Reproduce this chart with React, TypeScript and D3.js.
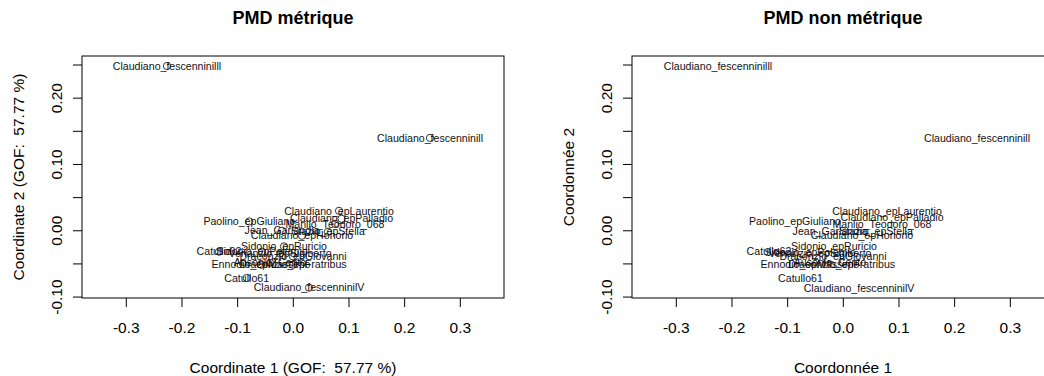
import * as d3 from 'd3';

// point labels, shared by both panels
const labels = [
  'Claudiano_fescenninilll',
  'Claudiano_fescenninill',
  'Claudiano_epLaurentio',
  'Claudiano_epPalladio',
  'Paolino_epGiuliano',
  'Manlio_Teodoro_068',
  'Jean_Garlandia',
  'Stazio_epStella',
  'Claudiano_epHonorio',
  'Sidonio_epRuricio',
  'Catullo62',
  'Sidonio_epPolemio',
  'Venanzio_epSigiberto',
  'Draconzio_epGiovanni',
  'Ausonio_Cento',
  'Ennodio_epMassimo',
  'Draconzio_epFratribus',
  'Catullo61',
  'Claudiano_fescenninilV',
];

const metricX = [-0.2269, 0.2456, 0.0821, 0.0866, -0.079, 0.0749, -0.0203, 0.0623, 0.0156, -0.0167, -0.1335, -0.0562, -0.0239, -0.0005, -0.0419, -0.058, -0.0005, -0.0837, 0.0282];
const metricY = [0.2485, 0.1401, 0.0301, 0.0181, 0.014, 0.0105, 0.0, -0.0015, -0.0075, -0.0236, -0.0316, -0.0316, -0.0346, -0.0387, -0.0482, -0.0512, -0.0512, -0.0712, -0.0858];

const nonMetricX = [-0.2251, 0.2402, 0.0785, 0.0875, -0.0868, 0.0695, -0.0239, 0.0587, 0.0336, -0.0167, -0.1335, -0.0598, -0.0419, -0.0185, -0.0239, -0.0598, -0.0032, -0.0769, 0.0282];
const nonMetricY = [0.2485, 0.1401, 0.0301, 0.0196, 0.0136, 0.0105, -0.0015, -0.0015, -0.0075, -0.0236, -0.0316, -0.0331, -0.0346, -0.0387, -0.0482, -0.0512, -0.0512, -0.0712, -0.0873];

const xTicks = [-0.3, -0.2, -0.1, 0, 0.1, 0.2, 0.3];
const yTicks = [-0.1, -0.05, 0, 0.05, 0.1, 0.15, 0.2, 0.25];
const yTickLabels = [-0.1, 0, 0.1, 0.2];

const FONT = '"Liberation Sans", Arial, sans-serif';
const TOP = 56;
const BOTTOM = 298;
const BOX_W = 422;

interface PanelProps {
  left: number;
  title: string;
  xTitle: string;
  yTitle: string;
  xs: number[];
  ys: number[];
  showPoints: boolean;
}

function Panel({ left, title, xTitle, yTitle, xs, ys, showPoints }: PanelProps) {
  const x = d3.scaleLinear().domain([-0.3796, 0.3785]).range([left, left + BOX_W]);
  const y = d3.scaleLinear().domain([-0.1014, 0.2636]).range([BOTTOM, TOP]);
  const cx = left + BOX_W / 2;
  const cy = (TOP + BOTTOM) / 2;

  return (
    <g fontFamily={FONT} fill="#000">
      <text x={cx} y={24} textAnchor="middle" fontSize={18} fontWeight="bold">{title}</text>
      <rect x={left} y={TOP} width={BOX_W} height={BOTTOM - TOP} fill="none" stroke="#000" strokeWidth={1} />

      {/* x axis */}
      {xTicks.map((t) => (
        <g key={`x${t}`}>
          <line x1={x(t)} x2={x(t)} y1={BOTTOM} y2={BOTTOM + 9} stroke="#000" />
          <text x={x(t)} y={332.5} textAnchor="middle" fontSize={15.5}>{t.toFixed(1)}</text>
        </g>
      ))}
      <text x={cx} y={372.5} textAnchor="middle" fontSize={15.5}>{xTitle}</text>

      {/* y axis */}
      {yTicks.map((t) => (
        <line key={`y${t}`} x1={left - 9} x2={left} y1={y(t)} y2={y(t)} stroke="#000" />
      ))}
      {yTickLabels.map((t) => (
        <text key={`yl${t}`} transform={`translate(${left - 20.3},${y(t)}) rotate(-90)`} textAnchor="middle" fontSize={15.5}>
          {t.toFixed(2)}
        </text>
      ))}
      <text transform={`translate(${left - 58},${cy}) rotate(-90)`} textAnchor="middle" fontSize={15.5}>{yTitle}</text>

      {/* points and labels */}
      {showPoints && xs.map((v, i) => (
        <circle key={`p${i}`} cx={x(v)} cy={y(ys[i])} r={3.6} fill="none" stroke="#333" strokeWidth={1} />
      ))}
      {labels.map((l, i) => (
        <text key={`t${i}`} x={x(xs[i])} y={y(ys[i])} dy="0.35em" textAnchor="middle" fontSize={10.6} fill="#111">
          {l}
        </text>
      ))}
    </g>
  );
}

export default function App() {
  return (
    <div style={{ position: 'absolute', left: 0, top: 0, background: '#fff' }}>
      <svg width={1044} height={376} style={{ display: 'block' }}>
        <rect width={1044} height={376} fill="#fff" />
        <Panel
          left={82}
          title="PMD métrique"
          xTitle={'Coordinate 1 (GOF:\u00a0 57.77 %)'}
          yTitle={'Coordinate 2 (GOF:\u00a0 57.77 %)'}
          xs={metricX}
          ys={metricY}
          showPoints
        />
        <Panel
          left={632}
          title="PMD non métrique"
          xTitle="Coordonnée 1"
          yTitle="Coordonnée 2"
          xs={nonMetricX}
          ys={nonMetricY}
          showPoints={false}
        />
      </svg>
    </div>
  );
}
